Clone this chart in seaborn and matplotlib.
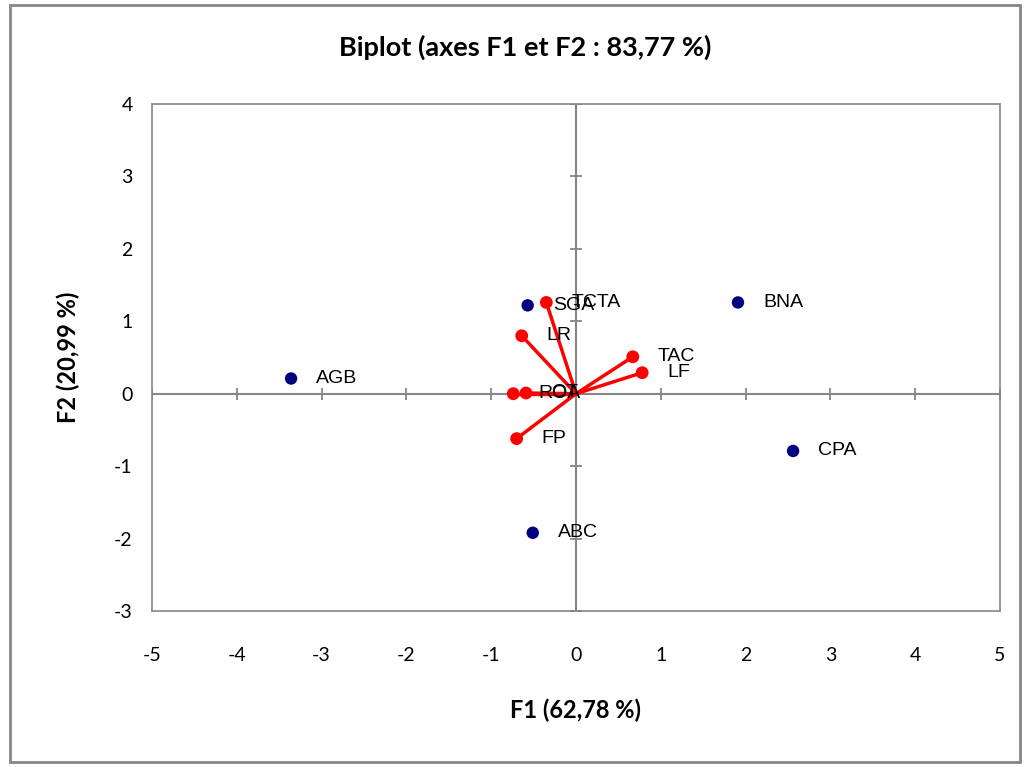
import matplotlib
matplotlib.use("Agg")
import matplotlib.pyplot as plt
import numpy as np
import pandas as pd
import seaborn as sns
from matplotlib.patches import Rectangle

# observations (F1, F2)
obs_names = ["AGB", "BNA", "CPA", "ABC", "SGA"]
obs_f1 = [-3.36, 1.91, 2.56, -0.51, -0.57]
obs_f2 = [0.21, 1.26, -0.79, -1.92, 1.22]

# variables (F1, F2)
var_names = ["TCTA", "LR", "TAC", "LF", "ROA", "OT", "FP"]
var_f1 = [-0.35, -0.64, 0.67, 0.78, -0.74, -0.59, -0.70]
var_f2 = [1.26, 0.80, 0.51, 0.29, 0.00, 0.01, -0.62]

x_ticks = list(range(-5, 6))
y_ticks = list(range(-3, 5))

sns.set_theme(style="white")
plt.rcParams['font.family'] = ['Lato', 'DejaVu Sans']
plt.rcParams['axes.unicode_minus'] = False
plt.rcParams['text.color'] = 'black'
plt.rcParams['xtick.color'] = 'black'
plt.rcParams['ytick.color'] = 'black'

obs = pd.DataFrame({"name": obs_names, "F1": obs_f1, "F2": obs_f2})
var = pd.DataFrame({"name": var_names, "F1": var_f1, "F2": var_f2})

fig = plt.figure(figsize=(10.32, 7.67), dpi=100)
ax = fig.add_axes([152/1032, 156/767, 848/1032, 507/767])

grey = "#868686"
ax.set_xlim(-5, 5)
ax.set_ylim(-3, 4)
for s in ax.spines.values():
	s.set_color(grey)
	s.set_linewidth(1.2)

# axes through origin with crossing ticks
ax.axhline(0, color=grey, lw=1.5, zorder=1)
ax.axvline(0, color=grey, lw=1.5, zorder=1)
ax.plot(x_ticks, [0]*len(x_ticks), ls='none', marker='|', ms=9, mew=1.3, color=grey, zorder=1)
ax.plot([0]*len(y_ticks), y_ticks, ls='none', marker='_', ms=9, mew=1.3, color=grey, zorder=1)

# variable vectors
for _, r in var.iterrows():
	ax.plot([0, r.F1], [0, r.F2], color="#ff0000", lw=2.5, zorder=2)
sns.scatterplot(data=var, x="F1", y="F2", color="#ff0000", s=85, edgecolor="none", ax=ax, zorder=3)
sns.scatterplot(data=obs, x="F1", y="F2", color="#000080", s=80, edgecolor="none", ax=ax, zorder=3)

for df in (obs, var):
	for _, r in df.iterrows():
		ax.annotate(r["name"], (r.F1, r.F2), xytext=(18, 0), textcoords='offset points',
					ha='left', va='center', fontsize=14, color='black',
					family=['Liberation Sans', 'DejaVu Sans'], zorder=4)

ax.set_xticks(x_ticks)
ax.set_yticks(y_ticks)
ax.tick_params(axis='x', length=0, pad=26, labelsize=14)
ax.tick_params(axis='y', length=0, pad=14, labelsize=14)
ax.set_xlabel("")
ax.set_ylabel("")

fig.text(525/1032, 1 - 47/767, "Biplot (axes F1 et F2 : 83,77 %)", ha='center', va='center',
		 fontsize=19.5, fontweight='bold')
fig.text(576/1032, 1 - 710/767, "F1 (62,78 %)", ha='center', va='center', fontsize=17, fontweight='bold')
fig.text(68/1032, 1 - 357/767, "F2 (20,99 %)", ha='center', va='center', rotation=90,
		 fontsize=17, fontweight='bold')

fig.patches.append(Rectangle((10/1032, 5/767), 1010/1032, 757/767, transform=fig.transFigure,
							 fill=False, edgecolor=grey, lw=2))

plt.savefig("out.png", dpi=100)
